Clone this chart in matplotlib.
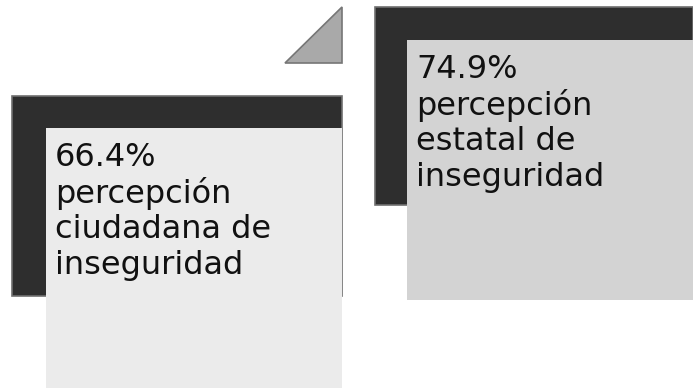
import matplotlib.pyplot as plt
from matplotlib.patches import Rectangle, Polygon

# data
values = [66.4, 74.9]
labels = ["percepción\nciudadana de\ninseguridad", "percepción\nestatal de\ninseguridad"]
card_colors = ["#ebebeb", "#d3d3d3"]

# card layout in pixels (x0, y0 of back frame, x0, y0 of front card, right, bottom)
back = [(12, 96, 342, 296), (375, 7, 693, 205)]
front = [(46, 128, 342, 388), (407, 40, 693, 300)]

fig = plt.figure(figsize=(6.93, 3.88), dpi=100)
ax = fig.add_axes([0, 0, 1, 1])
ax.set_xlim(0, 693)
ax.set_ylim(388, 0)
ax.axis("off")

for i in range(len(values)):
    bx0, by0, bx1, by1 = back[i]
    ax.add_patch(Rectangle((bx0, by0), bx1 - bx0, by1 - by0,
                           facecolor="#2e2e2e", edgecolor="#707070", lw=1.2))
    fx0, fy0, fx1, fy1 = front[i]
    ax.add_patch(Rectangle((fx0, fy0), fx1 - fx0, fy1 - fy0,
                           facecolor=card_colors[i], edgecolor="none"))
    ax.text(fx0 + 9, fy0 + 14, f"{values[i]}%\n{labels[i]}",
            fontsize=23, color="#111111", ha="left", va="top",
            linespacing=1.17, family="DejaVu Sans")

# small corner triangle
ax.add_patch(Polygon([(285, 63), (342, 7), (342, 63)], closed=True,
                     facecolor="#a9a9a9", edgecolor="#767676", lw=1.2))

fig.savefig("out.png", dpi=100)
